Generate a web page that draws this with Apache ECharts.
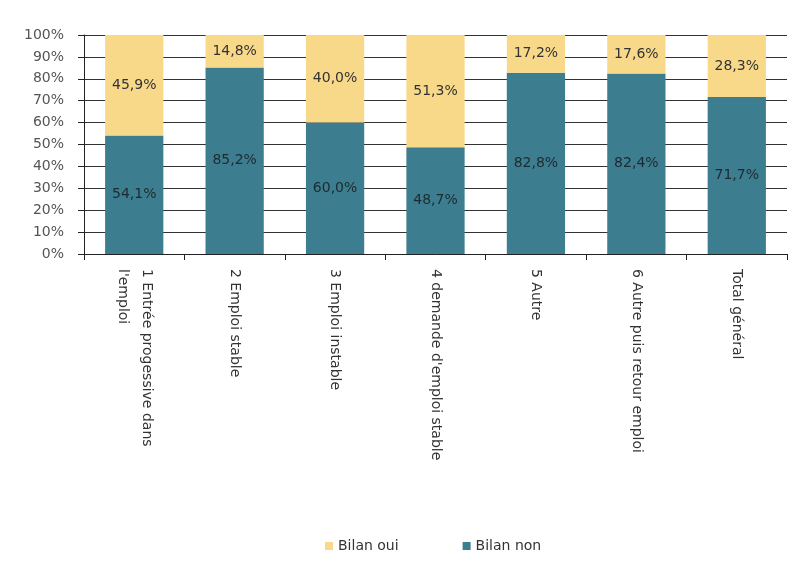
<!DOCTYPE html>
<html>
<head>
<meta charset="utf-8">
<script src="https://cdn.jsdelivr.net/npm/echarts@6/dist/echarts.min.js"></script>
<style>
  html, body { margin: 0; padding: 0; background: #fff; }
  #chart { width: 797px; height: 562px; }
</style>
</head>
<body>
<div id="chart"></div>
<script>
// categories et valeurs (%)
var categories = [
    "1 Entrée progessive dans\nl'emploi",
    "2 Emploi stable",
    "3 Emploi instable",
    "4 demande d'emploi stable",
    "5 Autre",
    "6 Autre puis retour emploi",
    "Total général"
];
var bilanNon = [54.1, 85.2, 60.0, 48.7, 82.8, 82.4, 71.7];
var bilanOui = [45.9, 14.8, 40.0, 51.3, 17.2, 17.6, 28.3];

var chart = echarts.init(document.getElementById("chart"));

function pct(p) {
    return p.value.toFixed(1).replace('.', ',') + '%';
}

var option = {
    animation: false,
    textStyle: { fontFamily: 'DejaVu Sans, sans-serif' },
    grid: { left: 84, right: 10, top: 35, bottom: 308 },
    legend: {
        bottom: 4,
        left: 320,
        itemWidth: 8,
        itemHeight: 8,
        itemGap: 64,
        icon: 'rect',
        textStyle: { fontSize: 14, color: '#333' },
        data: ['Bilan oui', 'Bilan non']
    },
    xAxis: {
        type: 'category',
        data: categories,
        axisLine: { lineStyle: { color: '#222', width: 1 } },
        axisTick: { show: true, length: 6, lineStyle: { color: '#222' } },
        axisLabel: {
            rotate: -90,
            margin: 15,
            fontSize: 14,
            lineHeight: 24,
            color: '#333',
            interval: 0
        }
    },
    yAxis: {
        type: 'value',
        min: 0,
        max: 100,
        interval: 10,
        axisLine: { show: true, lineStyle: { color: '#222' } },
        axisTick: { show: true, length: 6, lineStyle: { color: '#222' } },
        axisLabel: { formatter: '{value}%', fontSize: 14, color: '#555', margin: 20 },
        splitLine: { lineStyle: { color: '#333', width: 1 } }
    },
    series: [
        {
            name: 'Bilan non',
            type: 'bar',
            stack: 'total',
            barWidth: '58%',
            data: bilanNon,
            itemStyle: { color: '#3C7D8F' },
            label: { show: true, position: 'inside', formatter: pct, fontSize: 14, color: '#1e2a30' }
        },
        {
            name: 'Bilan oui',
            type: 'bar',
            stack: 'total',
            barWidth: '58%',
            data: bilanOui,
            itemStyle: { color: '#F8D98A' },
            label: { show: true, position: 'inside', formatter: pct, fontSize: 14, color: '#333' }
        }
    ]
};
chart.setOption(option);
</script>
</body>
</html>
